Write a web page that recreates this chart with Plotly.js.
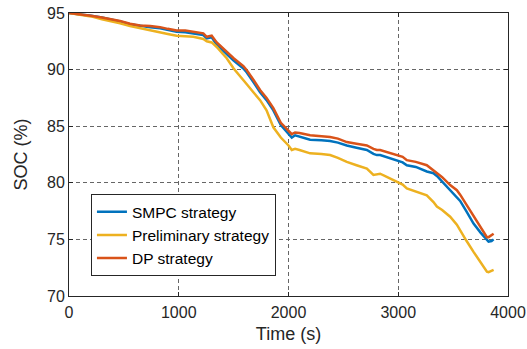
<!DOCTYPE html>
<html>
<head>
<meta charset="utf-8">
<script src="https://cdn.plot.ly/plotly-3.0.1.min.js"></script>
<style>html,body{margin:0;padding:0;background:#fff;}#chart{width:527px;height:349px;}</style>
</head>
<body>
<div id="chart"></div>
<script>
const time = [0, 100, 200, 300, 400, 465, 556, 647, 740, 830, 900, 981, 1060, 1133, 1224, 1255, 1300, 1346, 1400, 1437, 1500, 1589, 1620, 1680, 1741, 1800, 1862, 1930, 2000, 2030, 2060, 2100, 2197, 2300, 2379, 2450, 2531, 2620, 2714, 2774, 2805, 2835, 2900, 2987, 3040, 3078, 3160, 3260, 3321, 3352, 3400, 3473, 3534, 3564, 3620, 3686, 3750, 3808, 3823, 3850, 3869];

const socSMPC = [95.0, 94.9, 94.75, 94.6, 94.4, 94.25, 94.0, 93.85, 93.75, 93.65, 93.5, 93.35, 93.3, 93.2, 93.05, 92.75, 92.85, 92.2, 91.7, 91.3, 90.8, 90.1, 89.75, 88.9, 88.0, 87.3, 86.4, 85.1, 84.35, 84.0, 84.2, 84.1, 83.8, 83.75, 83.7, 83.55, 83.3, 83.1, 82.9, 82.55, 82.45, 82.45, 82.25, 82.0, 81.8, 81.55, 81.4, 81.0, 80.85, 80.6, 80.1, 79.35, 78.8, 78.4, 77.5, 76.4, 75.6, 74.9, 74.8, 74.85, 75.0];

const socPrelim = [95.0, 94.85, 94.7, 94.45, 94.25, 94.1, 93.85, 93.65, 93.5, 93.3, 93.15, 93.0, 92.95, 92.9, 92.7, 92.5, 92.4, 92.0, 91.4, 91.0, 90.1, 89.0, 88.7, 88.0, 87.3, 86.4, 84.9, 84.0, 83.3, 82.9, 83.0, 82.9, 82.6, 82.55, 82.45, 82.2, 81.85, 81.55, 81.25, 80.7, 80.75, 80.8, 80.5, 80.1, 79.85, 79.5, 79.25, 78.9, 78.3, 77.9, 77.6, 77.0, 76.3, 75.8, 74.9, 73.9, 73.0, 72.15, 72.1, 72.2, 72.3];

const socDP = [95.0, 94.9, 94.75, 94.6, 94.45, 94.3, 94.05, 93.9, 93.85, 93.75, 93.6, 93.45, 93.45, 93.35, 93.2, 92.9, 93.0, 92.4, 91.9, 91.5, 91.0, 90.3, 89.95, 89.1, 88.2, 87.5, 86.6, 85.3, 84.6, 84.3, 84.45, 84.4, 84.2, 84.1, 84.05, 83.9, 83.6, 83.45, 83.3, 83.0, 82.9, 82.9, 82.7, 82.45, 82.3, 82.0, 81.85, 81.55, 81.1, 80.9, 80.5, 79.8, 79.35, 78.95, 78.1, 77.0, 76.1, 75.2, 75.2, 75.4, 75.5];

const seriesNames = ["SMPC strategy", "Preliminary strategy", "DP strategy"];
const seriesColors = ["#0072BD", "#EDB120", "#D95319"];
const xTicks = [0, 1000, 2000, 3000, 4000];
const yTicks = [70, 75, 80, 85, 90, 95];

const allY = [socSMPC, socPrelim, socDP];
const traces = allY.map((y, i) => ({
  x: time, y: y, type: 'scatter', mode: 'lines', name: seriesNames[i],
  line: {color: seriesColors[i], width: 2.5}
}));

const FONT = 'Arial, Liberation Sans, sans-serif';
const axisCommon = {
  showline: true, mirror: 'ticks', linecolor: '#262626', linewidth: 1,
  ticks: 'inside', ticklen: 4, tickcolor: '#262626',
  showgrid: true, gridcolor: '#666666', griddash: '4px,3px', gridwidth: 1,
  zeroline: false, tickfont: {family: FONT, size: 16, color: '#262626'}
};

const layout = {
  width: 527, height: 349,
  margin: {l: 69, r: 19, t: 12.5, b: 53},
  paper_bgcolor: '#ffffff', plot_bgcolor: '#ffffff',
  font: {family: FONT, color: '#262626'},
  xaxis: Object.assign({}, axisCommon, {
    range: [0, 4000], tickvals: xTicks, ticktext: xTicks.map(String),
    ticklabelstandoff: 2,
    title: {text: 'Time (s)', font: {size: 18, color: '#262626'}, standoff: 7}
  }),
  yaxis: Object.assign({}, axisCommon, {
    range: [70, 95], tickvals: yTicks, ticktext: yTicks.map(String),
    title: {text: 'SOC (%)', font: {size: 18, color: '#262626'}, standoff: 14}
  }),
  showlegend: true,
  legend: {
    x: 0.05, y: 0.07, xanchor: 'left', yanchor: 'bottom',
    bgcolor: '#ffffff', bordercolor: '#262626', borderwidth: 1,
    font: {size: 15.5, color: '#000000'}, tracegroupgap: 0
  }
};

Plotly.newPlot('chart', traces, layout, {staticPlot: true, displayModeBar: false});
</script>
</body>
</html>
